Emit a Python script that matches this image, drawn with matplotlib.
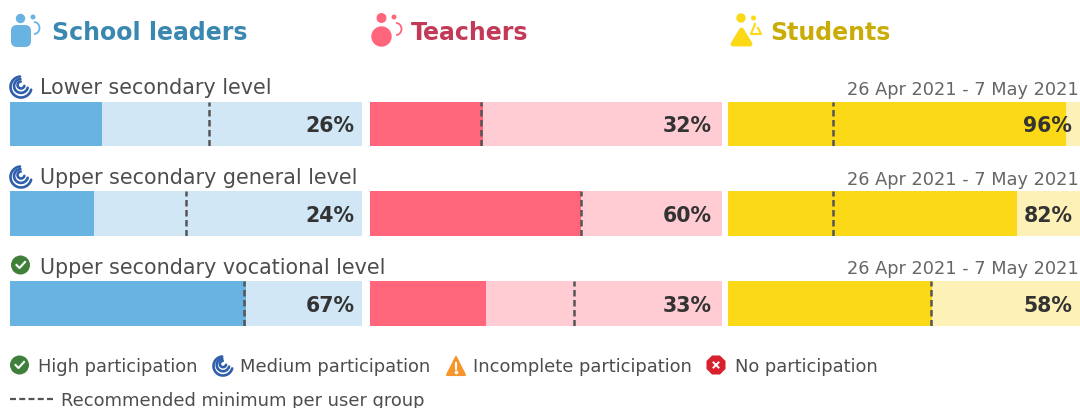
import numpy as np
import matplotlib
matplotlib.use("Agg")
import matplotlib.pyplot as plt
from matplotlib.patches import Circle, Polygon, FancyBboxPatch, Arc, RegularPolygon

plt.rcParams["font.family"] = ["DejaVu Sans"]

W, H = 1080, 408
groups = ["School leaders", "Teachers", "Students"]
levels = ["Lower secondary level", "Upper secondary general level", "Upper secondary vocational level"]
status = ["medium", "medium", "high"]
dates = ["26 Apr 2021 - 7 May 2021"] * 3
school_values = [26, 24, 67]
teacher_values = [32, 60, 33]
student_values = [96, 82, 58]
school_minimum = [56.5, 50, 66.5]
teacher_minimum = [31.5, 60, 58]
student_minimum = [29.7, 29.7, 57.8]
legend_labels = ["High participation", "Medium participation", "Incomplete participation", "No participation"]
minimum_label = "Recommended minimum per user group"

values = [school_values, teacher_values, student_values]
minimums = [school_minimum, teacher_minimum, student_minimum]
dark = ["#69b3e3", "#ff667c", "#fbd916"]
light = ["#d2e7f6", "#ffccd4", "#fef1b8"]
head = ["#3a87b0", "#c23a58", "#c9ad06"]
panel_x = [(10, 362), (370, 722), (728, 1080)]
label_inset = [97.8, 97.2, 97.8]
row_y = [(102, 146), (191, 236), (281, 326)]
GREY = "#4d4d4d"
DASH = "#555555"

fig = plt.figure(figsize=(W / 100, H / 100), dpi=100, facecolor="white")

for g, (x0, x1) in enumerate(panel_x):
    for r, (y0, y1) in enumerate(row_y):
        ax = fig.add_axes([x0 / W, 1 - y1 / H, (x1 - x0) / W, (y1 - y0) / H])
        ax.set_xlim(0, 100)
        ax.set_ylim(0, 1)
        ax.axis("off")
        ax.barh(0.5, 100, height=1, color=light[g], linewidth=0)
        ax.barh(0.5, values[g][r], height=1, color=dark[g], linewidth=0)
        ax.axvline(minimums[g][r], color=DASH, lw=1.8, dashes=(2.6, 1.4))
        ax.text(label_inset[g], 0.5, f"{values[g][r]}%", ha="right", va="center_baseline",
                fontsize=14.8, fontweight="bold", color="#333333")

ov = fig.add_axes([0, 0, 1, 1])
ov.set_xlim(0, W)
ov.set_ylim(H, 0)
ov.axis("off")

def check(x, y, r=9.5):
    ov.add_patch(Circle((x, y), r, color="#3f7f3a", lw=0))
    ov.plot([x - 4, x - 1, x + 4.5], [y, y + 3, y - 3], color="white", lw=1.5)

def spiral(x, y, r=10.5):
    for f in (1.0, 0.66, 0.33):
        t = np.radians(np.linspace(15, 265, 40))
        ov.plot(x + r * f * np.cos(t), y + r * f * np.sin(t) - (1 - f) * 3,
                color="#2f5fab", lw=1.9, solid_capstyle="round")

def warn(x, y):
    ov.add_patch(Polygon([[x - 9, y + 9], [x + 9, y + 9], [x, y - 9]], closed=True,
                         fc="#f7952b", ec="#f7952b", lw=1.5, joinstyle="round"))
    ov.plot([x, x], [y - 3, y + 3], color="white", lw=1.5)
    ov.plot([x], [y + 6], "o", ms=1.6, color="white")

def nope(x, y):
    ov.add_patch(RegularPolygon((x, y), 8, radius=10.3, orientation=np.pi / 8, color="#d9202f", lw=0))
    ov.plot([x - 2.5, x + 2.5], [y - 2.5, y + 2.5], color="white", lw=1.4)
    ov.plot([x - 2.5, x + 2.5], [y + 2.5, y - 2.5], color="white", lw=1.4)

# group headers
ov.add_patch(Circle((20.5, 18.5), 4.7, color=dark[0], lw=0))
ov.add_patch(Circle((33, 17), 2.5, color=dark[0], lw=0))
ov.add_patch(FancyBboxPatch((11, 25), 20, 22, boxstyle="round,pad=0,rounding_size=6", color=dark[0], lw=0))
ov.add_patch(Arc((34, 28), 11, 12, theta1=-90, theta2=90, color=dark[0], lw=1.3))

ov.add_patch(Circle((381.5, 18), 5, color=dark[1], lw=0))
ov.add_patch(Circle((394, 17), 2.5, color=dark[1], lw=0))
ov.add_patch(Circle((381.5, 36.5), 10.2, color=dark[1], lw=0))
ov.add_patch(Arc((396, 29), 11, 12, theta1=-90, theta2=90, color=dark[1], lw=1.3))

ov.add_patch(Circle((741, 18), 4.7, color=dark[2], lw=0))
ov.add_patch(Circle((753.5, 18), 2.5, color=dark[2], lw=0))
ov.add_patch(Polygon([[741.5, 30], [750, 44], [733, 44]], closed=True, fc=dark[2], ec=dark[2], lw=3.5, joinstyle="round"))
ov.plot([755, 751, 761, 758], [24, 34, 34, 28], color=dark[2], lw=1.5)

for name, x, c in zip(groups, [52, 411, 770], head):
    ov.text(x, 30, name, fontsize=17.0, fontweight="bold", color=c, va="center_baseline", ha="left")

for r, (name, st, d) in enumerate(zip(levels, status, dates)):
    y = [87, 177, 266][r]
    if st == "high":
        check(20.5, y - 1)
    else:
        spiral(21, y)
    ov.text(40, y - 0.5, name, fontsize=14.85, color=GREY, va="center_baseline", ha="left")
    ov.text(1079, y + 1, d, fontsize=12.8, color="#666666", va="center_baseline", ha="right")

# legend
check(19.5, 365)
spiral(223, 366, 9.5)
warn(456, 366)
nope(716, 365)
for name, x in zip(legend_labels, [38, 240, 473, 735]):
    ov.text(x, 365, name, fontsize=12.85, color=GREY, va="center_baseline", ha="left")
ov.plot([10, 53], [399, 399], color=DASH, lw=1.6, dashes=(2.7, 1.46))
ov.text(61, 398.5, minimum_label, fontsize=12.85, color=GREY, va="center_baseline", ha="left")

fig.savefig("out.png", dpi=100, facecolor="white")
